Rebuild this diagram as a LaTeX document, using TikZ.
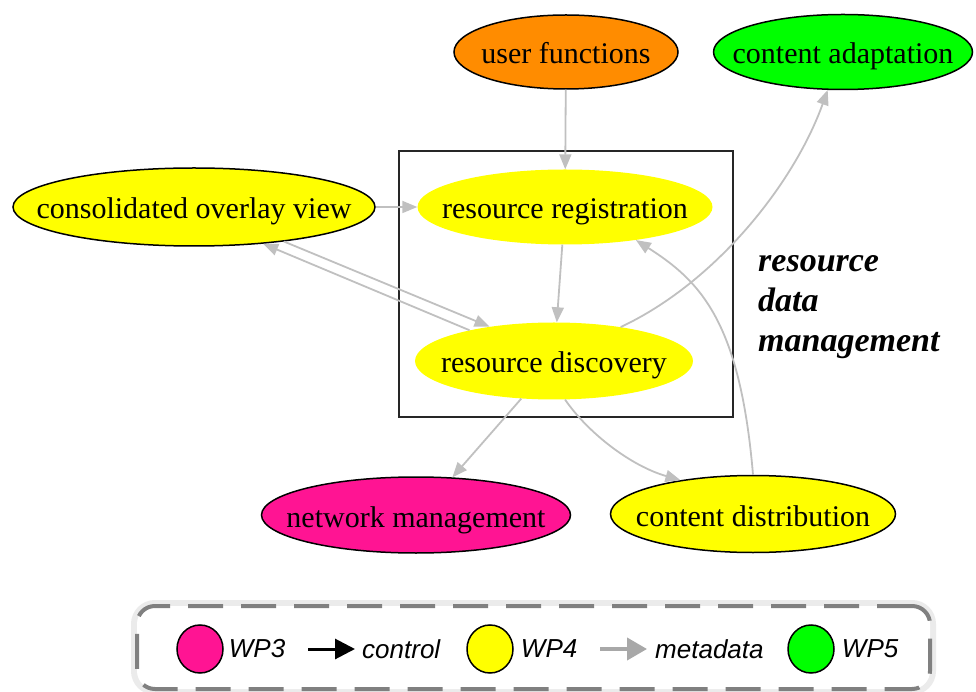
\documentclass[tikz,border=0pt]{standalone}
\usepackage{fontspec}
\setmainfont{Liberation Serif}
\newfontfamily\legendfont{Liberation Sans}
\usetikzlibrary{shapes.geometric, arrows.meta, positioning}

\definecolor{wpthree}{HTML}{FF1493}
\definecolor{wpfour}{HTML}{FFFF00}
\definecolor{wpfive}{HTML}{00FF00}
\definecolor{userorange}{HTML}{FF8C00}
\definecolor{metagray}{HTML}{C0C0C0}
\definecolor{legendgray}{HTML}{A8A8A8}

\newcommand{\nbox}[1]{\makebox[0pt]{#1}}

\begin{document}
\begin{tikzpicture}[x=1pt,y=1pt,
	wp/.style={ellipse,inner sep=0pt,font=\fontsize{30}{36}\selectfont,text height=25pt,text depth=1pt},
	framed/.style={draw=black,line width=1.5pt},
	meta/.style={draw=metagray,line width=1.8pt,-{Triangle[length=15pt,width=12pt]}},
	legtext/.style={inner sep=0pt,font=\legendfont\itshape\fontsize{26}{30}\selectfont},
	legdot/.style={ellipse,draw=black,line width=1.5pt,minimum width=46pt,minimum height=48pt,inner sep=0pt},
	legframe/.style={draw=black!50,line width=4pt,dash pattern=on 35pt off 18pt,rounded corners=18pt,fill=white,
		preaction={draw=black!8,solid,line width=12pt}}]

	\useasboundingbox (0,0) rectangle (976,691);

	\node (rdm) at (566,407) [draw=black!85,line width=2.5pt,minimum width=334pt,minimum height=266pt] {};

	\node (user) at (566,639) [wp,framed,fill=userorange,minimum width=224pt,minimum height=74pt] {\nbox{user functions}};
	\node (adapt) at (843,639) [wp,framed,fill=wpfive,minimum width=259pt,minimum height=75pt] {\nbox{content adaptation}};
	\node (consol) at (194,484) [wp,framed,fill=wpfour,minimum width=362pt,minimum height=78pt] {\nbox{consolidated overlay view}};
	\node (reg) at (565,484) [wp,fill=wpfour,minimum width=295pt,minimum height=75pt] {\nbox{resource registration}};
	\node (disc) at (554,330) [wp,fill=wpfour,minimum width=278pt,minimum height=77pt] {\nbox{resource discovery}};
	\node (netw) at (416,176) [wp,framed,fill=wpthree,minimum width=309pt,minimum height=76pt] {\nbox{network management}};
	\node (dist) at (753,177) [wp,framed,fill=wpfour,minimum width=285pt,minimum height=77pt] {\nbox{content distribution}};

	\draw[meta] (user) -- (reg);
	\draw[meta] (consol) -- (reg);
	\draw[meta] (reg) -- (disc);
	\draw[meta] (consol.-21) -- (disc.152);
	\draw[meta] (disc.160) -- (consol.-28);
	\draw[meta] (disc.-131) -- (netw.46);
	\draw[meta] (disc.27) .. controls (715,408) and (794,507) .. (adapt.-112);
	\draw[meta] (disc.-74) .. controls (588,258) and (631,225) .. (dist.155);
	\draw[meta] (dist.north) .. controls (740,370) and (700,410) .. (reg.-25);

	\node (rdmlabel) at (758,339) [anchor=base west,align=left,inner sep=0pt,font=\bfseries\itshape\fontsize{34}{40}\selectfont] {resource\\data\\management};

	%legend
	\node (legend) at (533.5,43.5) [legframe,minimum width=793pt,minimum height=83pt] {};
	\node (wp3dot) at (200,42) [legdot,fill=wpthree] {};
	\node (wp3) [legtext,right=5pt of wp3dot] {WP3};
	\coordinate (ctrlA) at (308,42);
	\coordinate (ctrlB) at (355,42);
	\draw[line width=3pt,-{Triangle[length=20pt,width=20pt]}] (ctrlA) -- (ctrlB);
	\node (ctrltext) [legtext,right=7pt of ctrlB] {control};
	\node (wp4dot) at (490,42) [legdot,fill=wpfour] {};
	\node (wp4) [legtext,right=7pt of wp4dot] {WP4};
	\coordinate (metaA) at (600,42);
	\coordinate (metaB) at (647,42);
	\draw[draw=legendgray,line width=4pt,-{Triangle[length=20pt,width=22pt]}] (metaA) -- (metaB);
	\node (metatext) [legtext,right=8pt of metaB] {metadata};
	\node (wp5dot) at (811,42) [legdot,fill=wpfive] {};
	\node (wp5) [legtext,right=7pt of wp5dot] {WP5};
\end{tikzpicture}
\end{document}
